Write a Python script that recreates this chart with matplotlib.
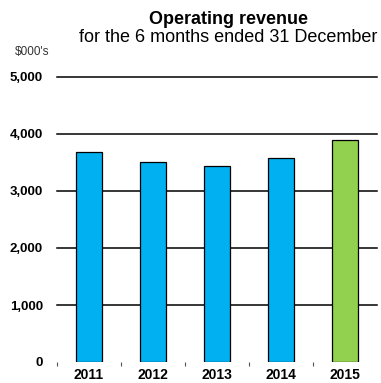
import numpy as np
import matplotlib.pyplot as plt
from matplotlib.ticker import FixedLocator, FuncFormatter

plt.rcParams['font.family'] = ['Liberation Sans', 'DejaVu Sans']

# operating revenue, $000's, six months to 31 December
years = ['2011', '2012', '2013', '2014', '2015']
revenue = [3690, 3515, 3430, 3575, 3890]
bar_colors = ['#00B0F0', '#00B0F0', '#00B0F0', '#00B0F0', '#92D050']
y_ticks = [0, 1000, 2000, 3000, 4000, 5000]

fig = plt.figure(figsize=(3.81, 3.83), dpi=100)
ax = fig.add_axes([57 / 381, 1 - 362 / 383, 320 / 381, (362 - 77) / 383])

x = np.arange(len(years))
ax.bar(x, revenue, width=0.41, color=bar_colors, edgecolor='black',
       linewidth=0.9, zorder=3)

# horizontal rules at each thousand (none on the baseline)
for val in y_ticks[1:]:
    ax.axhline(val, color='black', linewidth=1.1, zorder=2, clip_on=False)

ax.set_xlim(-0.5, len(years) - 0.5)
ax.set_ylim(0, 5000)

for side in ['top', 'right', 'left', 'bottom']:
    ax.spines[side].set_visible(False)

ax.yaxis.set_major_locator(FixedLocator(y_ticks))
ax.yaxis.set_major_formatter(FuncFormatter(lambda v, p: '{:,.0f}'.format(v)))
ax.tick_params(axis='y', length=0, pad=10, labelsize=9.5)
for lab in ax.get_yticklabels():
    lab.set_fontweight('bold')

ax.set_xticks(x)
ax.set_xticklabels(years, fontsize=10, fontweight='bold')
ax.tick_params(axis='x', which='major', length=0, pad=4.5)
# small separators between the year groups
ax.xaxis.set_minor_locator(FixedLocator(np.arange(-0.5, len(years) - 1, 1.0)))
ax.tick_params(axis='x', which='minor', length=3, width=0.8, color='#555555',
               direction='out')

fig.text(228 / 381, 1 - 19 / 383, 'Operating revenue', ha='center', va='center',
         fontsize=13, fontweight='bold')
fig.text(228 / 381, 1 - 38 / 383, 'for the 6 months ended 31 December',
         ha='center', va='center', fontsize=13)
fig.text(15 / 381, 1 - 52 / 383, "$000's", ha='left', va='center',
         fontsize=8.5, color='#333333')

fig.savefig('out.png', dpi=100)
